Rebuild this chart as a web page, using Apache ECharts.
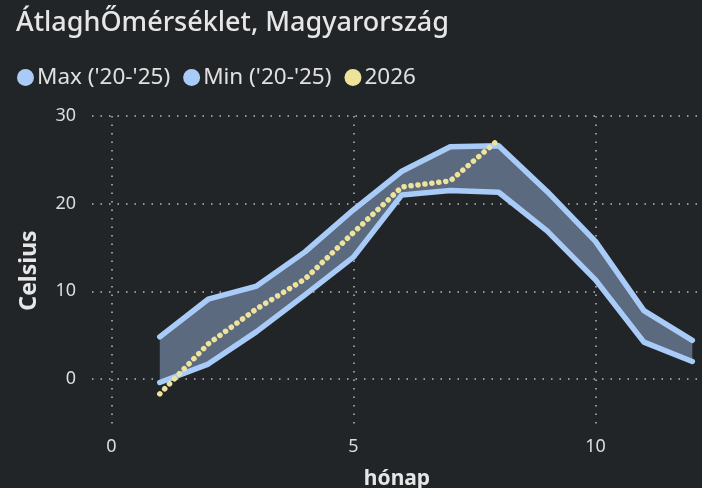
<!DOCTYPE html>
<html><head><meta charset="utf-8">
<script src="https://cdn.jsdelivr.net/npm/echarts@6/dist/echarts.min.js"></script>
<style>html,body{margin:0;padding:0;background:#222528;}#c{width:702px;height:488px;}</style>
</head><body><div id="c"></div>
<script>
const months = [1,2,3,4,5,6,7,8,9,10,11,12];
const maxVals = [4.8, 9.1, 10.6, 14.5, 19.3, 23.7, 26.5, 26.6, 21.4, 15.7, 7.8, 4.4];
const minVals = [-0.4, 1.7, 5.4, 9.6, 13.9, 21.0, 21.5, 21.3, 16.9, 11.3, 4.2, 2.0];
const months2026 = [1,2,3,4,5,6,7,8];
const vals2026 = [-1.7, 4.0, 8.0, 11.4, 16.7, 21.9, 22.6, 27.3];
const seriesNames = ["Max ('20-'25)", "Min ('20-'25)", "2026"];

const font = "'Noto Sans', sans-serif";
const blue = '#a9cbf8';
const yellow = '#eee39a';
const pair = (xs, ys) => xs.map((x, i) => [x, ys[i]]);

const chart = echarts.init(document.getElementById('c'));
chart.setOption({
  backgroundColor: '#222528',
  animation: false,
  title: {
    text: 'ÁtlaghŐmérséklet, Magyarország',
    left: 11, top: 5,
    textStyle: {color: '#e6e6e6', fontSize: 27, fontWeight: 500, fontFamily: font}
  },
  legend: {
    data: seriesNames,
    left: 12, top: 61,
    icon: 'circle', itemWidth: 17, itemHeight: 17, itemGap: 13,
    textStyle: {color: '#e0e0e0', fontSize: 22.5, fontFamily: font, padding: [0, 0, 0, -2]}
  },
  grid: {left: 92, right: 0, top: 116, bottom: 63, containLabel: false, outerBoundsMode: 'none'},
  xAxis: {
    type: 'value', min: -0.4, max: 12.2, splitNumber: 3,
    name: 'hónap', nameLocation: 'middle', nameGap: 44,
    nameTextStyle: {color: '#e6e6e6', fontSize: 21, fontWeight: 'bold', fontFamily: font},
    axisLine: {show: false}, axisTick: {show: false},
    axisLabel: {color: '#dcdcdc', fontSize: 18, fontFamily: font, margin: 13, showMinLabel: false, showMaxLabel: false},
    splitLine: {show: true, showMinLine: false, showMaxLine: false, lineStyle: {color: '#bbbbbb', type: [1.5, 7], width: 1.5}}
  },
  yAxis: {
    type: 'value', min: -5.25, max: 30, splitNumber: 4,
    name: 'Celsius', nameLocation: 'middle', nameGap: 51,
    nameTextStyle: {color: '#e6e6e6', fontSize: 23, fontWeight: 'bold', fontFamily: font},
    axisLine: {show: false}, axisTick: {show: false},
    axisLabel: {color: '#dcdcdc', fontSize: 18, fontFamily: font, margin: 16, showMinLabel: false},
    splitLine: {show: true, showMinLine: false, lineStyle: {color: '#bbbbbb', type: [1.5, 7], width: 1.5}}
  },
  series: [
    {
      name: 'band', type: 'custom', silent: true, z: 1,
      data: months.map((m, i) => [m, maxVals[i], minVals[i]]),
      encode: {x: 0, y: [1, 2]},
      renderItem: function (params, api) {
        if (params.dataIndex !== 0) return null;
        const pts = [];
        for (let i = 0; i < months.length; i++) pts.push(api.coord([months[i], maxVals[i]]));
        for (let i = months.length - 1; i >= 0; i--) pts.push(api.coord([months[i], minVals[i]]));
        return {type: 'polygon', shape: {points: pts}, style: {fill: '#5b6a7e'}};
      }
    },
    {
      name: seriesNames[0], type: 'line', data: pair(months, maxVals),
      showSymbol: false, symbol: 'circle', color: blue,
      lineStyle: {color: blue, width: 5.5, cap: 'round', join: 'round'}, z: 3
    },
    {
      name: seriesNames[1], type: 'line', data: pair(months, minVals),
      showSymbol: false, symbol: 'circle', color: blue,
      lineStyle: {color: blue, width: 5.5, cap: 'round', join: 'round'}, z: 3
    },
    {
      name: seriesNames[2], type: 'line', data: pair(months2026, vals2026),
      showSymbol: false, symbol: 'circle', color: yellow,
      lineStyle: {color: yellow, width: 5.5, type: [0.1, 6.9], cap: 'round', join: 'round'}, z: 4
    }
  ]
});
</script></body></html>
